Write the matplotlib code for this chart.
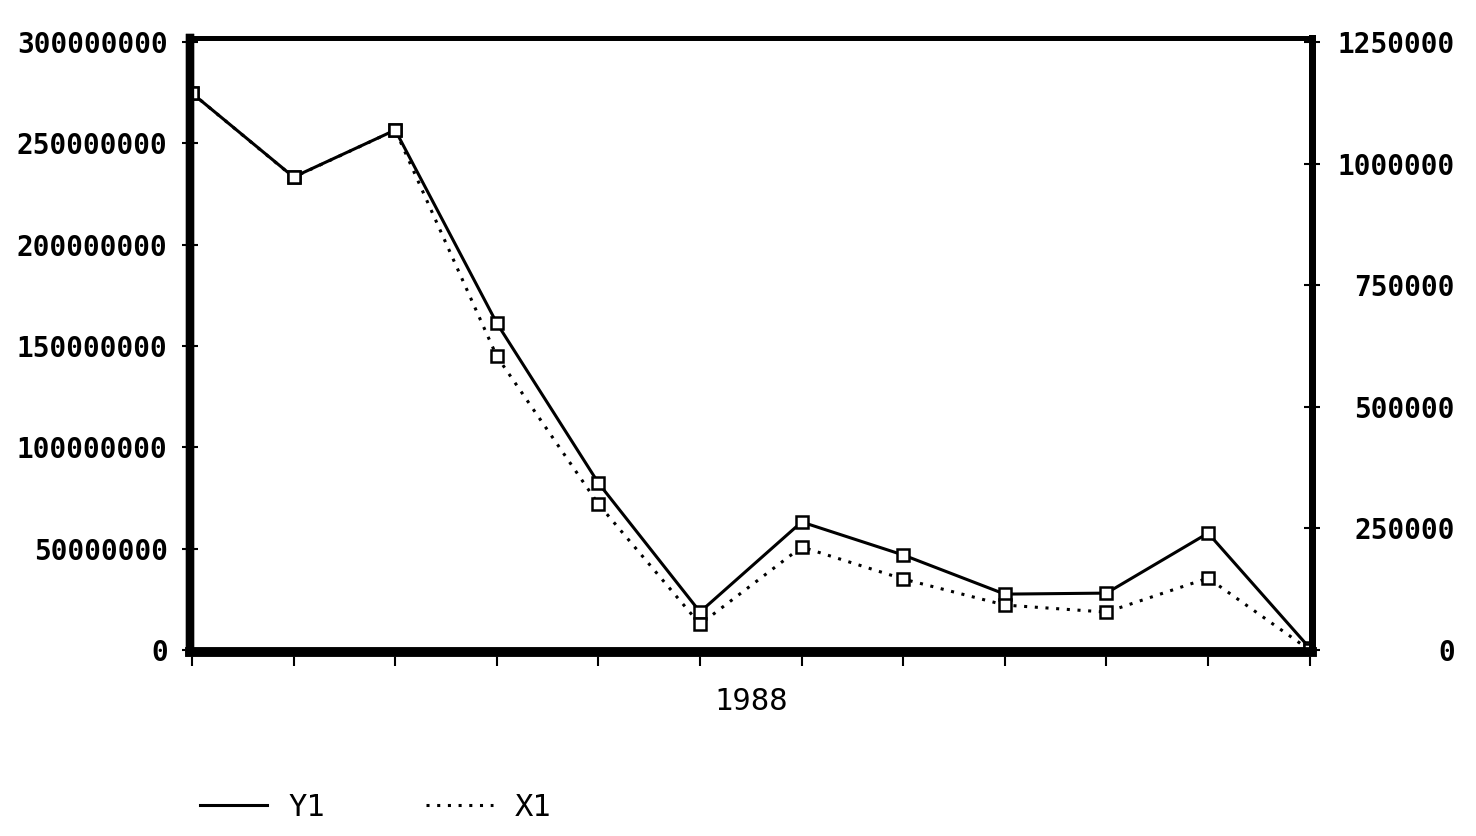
import matplotlib.pyplot as plt
from matplotlib.lines import Line2D

# Data (12 points in 1988)
periods = list(range(12))
y1 = [274.8e6, 233.4e6, 256.6e6, 161.3e6, 82.4e6, 18.8e6,
      63.2e6, 46.9e6, 27.6e6, 28.1e6, 57.7e6, 1.0e6]
x1 = [1145000, 972000, 1069000, 604000, 300000, 53000,
      212000, 146000, 92500, 78000, 148000, 0]

left_ticks = [0, 50000000, 100000000, 150000000, 200000000, 250000000, 300000000]
right_ticks = [0, 250000, 500000, 750000, 1000000, 1250000]
x_label = '1988'

font = {'family': 'DejaVu Sans Mono', 'weight': 'bold', 'size': 20}

fig = plt.figure(figsize=(14.76, 8.36), dpi=100)
ax = fig.add_axes([0.1287, 0.22, 0.760, 0.7345])
ax2 = ax.twinx()

ax.plot(periods, y1, '-', color='black', linewidth=2.2,
        marker='s', markersize=9, markerfacecolor='white', markeredgewidth=1.8)
ax2.plot(periods, x1, color='black', linewidth=2.2, linestyle=(0, (1, 2.5)),
         marker='s', markersize=9, markerfacecolor='white', markeredgewidth=1.8)

ax.set_xlim(-0.02, 11.02)
ax.set_ylim(-1e6, 302e6)
ax2.set_ylim(-1e6 * 1250000 / 300e6, 302e6 * 1250000 / 300e6)

ax.set_xticks(periods)
ax.set_xticklabels([])
ax.set_yticks(left_ticks)
ax.set_yticklabels([str(v) for v in left_ticks], **font)
ax2.set_yticks(right_ticks)
ax2.set_yticklabels([str(v) for v in right_ticks], **font)
for lab in ax2.get_yticklabels():
    lab.set_horizontalalignment('right')

ax.tick_params(axis='x', direction='out', length=10, width=1.5)
ax.tick_params(axis='y', direction='inout', length=12, width=1.5, pad=10)
ax2.tick_params(axis='y', direction='inout', length=12, width=1.5, pad=97)

for a in (ax, ax2):
    a.spines['left'].set_linewidth(6)
    a.spines['right'].set_linewidth(5)
    a.spines['bottom'].set_linewidth(7)
    a.spines['top'].set_linewidth(3.5)
ax.spines['bottom'].set_color('#555555')

ax.set_xlabel(x_label, fontfamily='DejaVu Sans Mono', fontsize=22, labelpad=12)

handles = [Line2D([], [], color='black', linewidth=2.2),
           Line2D([], [], color='black', linewidth=2.2, linestyle=(0, (1, 2.5)))]
fig.legend(handles, ['Y1', 'X1'], loc='center left', bbox_to_anchor=(0.1355, 0.034),
           ncol=2, frameon=False, handlelength=2.2, handletextpad=0.7,
           columnspacing=3.3, borderpad=0, borderaxespad=0,
           prop={'family': 'DejaVu Sans Mono', 'size': 22})

fig.savefig('out.png', dpi=100)
